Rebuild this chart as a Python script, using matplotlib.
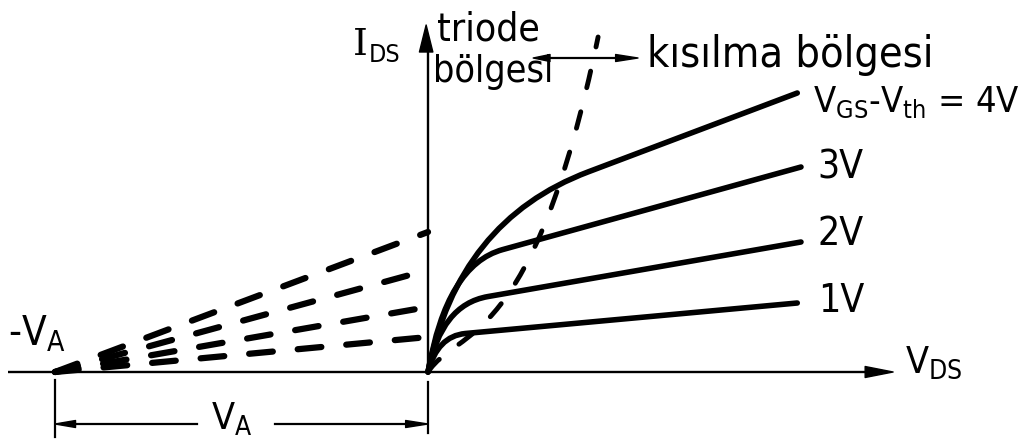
import matplotlib
matplotlib.use("Agg")
import matplotlib.pyplot as plt
from matplotlib.path import Path
from matplotlib.patches import PathPatch, Polygon

# ---- data (V_DS in arbitrary volts, I_DS in arbitrary current units) ----
V_A = 10.0                                   # Early voltage
overdrive = ["1V", "2V", "3V", "4V"]         # V_GS - V_th of each curve
I_intercept = [3.5, 6.5, 10.2, 14.0]         # saturation lines extrapolated to V_DS = 0
V_end = [9.9, 10.0, 10.0, 9.9]               # right end of each curve
I_end = [6.9, 13.0, 20.5, 27.9]
V_ctrl = [0.25, 0.35, 0.5, 0.8]              # bezier control of the triode part
I_ctrl = [3.59, 6.73, 10.71, 15.12]
V_knee = [1.0, 1.6, 2.0, 4.3]                # where the triode part joins the saturation line
I_knee = [3.85, 7.54, 12.24, 20.02]
V_pinch = [0.0, 0.8, 2.8, 4.56]              # pinch-off boundary (cubic bezier)
I_pinch = [0.0, 4.5, 2.0, 33.5]

SANS = dict(family=["DejaVu Sans"], fontstretch="condensed", color="black")

fig = plt.figure(figsize=(10.32, 4.48), dpi=100)
ax = fig.add_axes([0, 0, 1, 1])
ax.set_xlim(-11.475, 16.193)
ax.set_ylim(-7.6, 37.2)
ax.axis("off")


def head(tip, direction, length, half_width):
    """Filled narrow arrowhead; direction is (dx, dy) unit in data axes."""
    dx, dy = direction
    tx, ty = tip
    bx, by = tx - dx * length, ty - dy * length
    if dx != 0:
        pts = [(tx, ty), (bx, by + half_width), (bx, by - half_width)]
    else:
        pts = [(tx, ty), (bx + half_width, by), (bx - half_width, by)]
    ax.add_patch(Polygon(pts, closed=True, facecolor="black",
                         edgecolor="black", lw=1.0, joinstyle="round"))


# axes
ax.plot([-11.26, 11.8], [0, 0], color="black", lw=1.7, solid_capstyle="butt")
head((12.47, 0.0), (1, 0), 0.75, 0.55)
ax.plot([0, 0], [0, 32.5], color="black", lw=1.7, solid_capstyle="butt")
head((-0.05, 34.7), (0, 1), 2.7, 0.18)

# extrapolated saturation lines meeting at -V_A
for i0 in I_intercept:
    ax.plot([-V_A, 0.0], [0.0, i0], color="black", lw=4.5,
            linestyle=(0, (3.8, 4.0)), dash_capstyle="round")

# output characteristics: triode bend then saturation line
for vc, ic, vk, ik, ve, ie in zip(V_ctrl, I_ctrl, V_knee, I_knee, V_end, I_end):
    path = Path([(0.0, 0.0), (vc, ic), (vk, ik), (ve, ie)],
                [Path.MOVETO, Path.CURVE3, Path.CURVE3, Path.LINETO])
    ax.add_patch(PathPatch(path, fill=False, edgecolor="black", lw=4.0,
                           capstyle="round", joinstyle="round"))

# pinch-off boundary
pinch = Path(list(zip(V_pinch, I_pinch)),
             [Path.MOVETO, Path.CURVE4, Path.CURVE4, Path.CURVE4])
ax.add_patch(PathPatch(pinch, fill=False, edgecolor="black", lw=3.5,
                       linestyle=(0, (3.5, 5.1)), capstyle="round"))

# region arrow between triode and pinch-off regions
ax.plot([3.1, 5.2], [31.4, 31.4], color="black", lw=1.6)
head((2.82, 31.4), (-1, 0), 0.45, 0.35)
head((5.63, 31.4), (1, 0), 0.6, 0.35)

# V_A dimension
ax.plot([-V_A, -V_A], [-0.8, -6.5], color="black", lw=1.6)
ax.plot([0, 0], [-1.0, -6.1], color="black", lw=1.6)
ax.plot([-V_A + 0.3, -6.19], [-5.2, -5.2], color="black", lw=1.6)
ax.plot([-4.10, -0.3], [-5.2, -5.2], color="black", lw=1.6)
head((-V_A, -5.2), (-1, 0), 0.55, 0.35)
head((0.0, -5.2), (1, 0), 0.6, 0.35)

# labels
ax.text(-2.01, 31.7, "I", fontsize=27, family=["DejaVu Serif"], va="baseline")
ax.text(-1.58, 31.0, "DS", fontsize=18, va="baseline", **SANS)
ax.text(0.24, 33.2, "triode", fontsize=28, va="baseline", **SANS)
ax.text(0.13, 29.0, "bölgesi", fontsize=27, va="baseline", **SANS)
ax.text(5.87, 30.5, "kısılma bölgesi", fontsize=31, va="baseline", **SANS)

label_pos = [(10.46, 6.0), (10.43, 12.7), (10.43, 19.4), (10.32, 26.0)]
for lab, (lx, ly) in zip(overdrive, label_pos):
    if lab == "4V":
        ax.text(lx, ly, r"$\mathregular{V_{GS}}$-$\mathregular{V_{th}}$ = " + lab,
                fontsize=26, va="baseline", **SANS)
    else:
        ax.text(lx, ly, lab, fontsize=28, va="baseline", **SANS)

ax.text(-11.25, 2.7, r"-$\mathregular{V_A}$", fontsize=29, va="baseline", **SANS)
ax.text(-5.25, -5.8, r"$\mathregular{V_A}$", fontsize=27, va="baseline",
        ha="center", **SANS)
ax.text(12.79, -0.1, r"$\mathregular{V_{DS}}$", fontsize=27, va="baseline", **SANS)

fig.savefig("out.png", dpi=100, facecolor="white")
